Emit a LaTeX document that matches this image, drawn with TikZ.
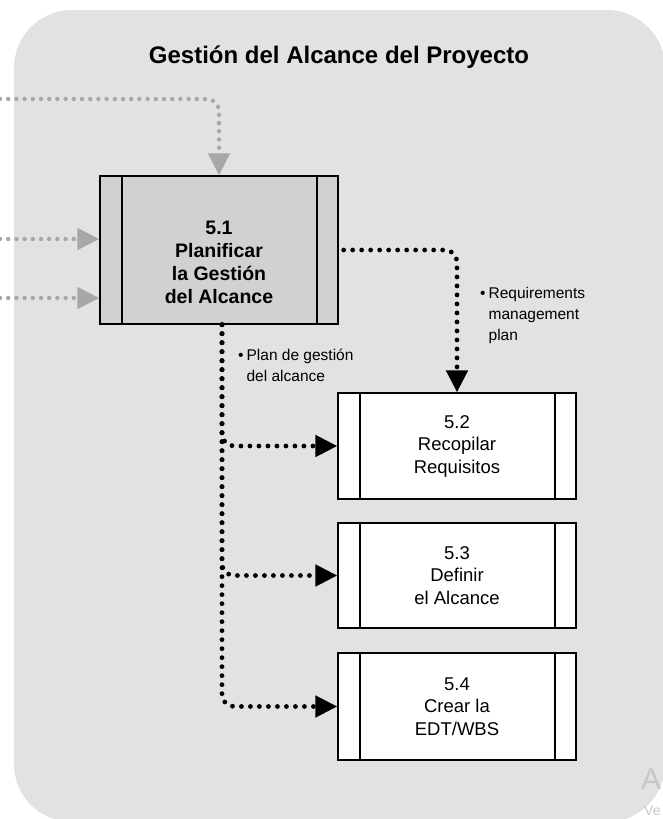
\documentclass[tikz,border=0pt]{standalone}
\usepackage{fontspec}
\setmainfont{Liberation Sans}
\usetikzlibrary{arrows.meta,calc}
\definecolor{panel}{HTML}{E1E2E4}
\definecolor{boxgray}{HTML}{D0D1D3}
\definecolor{flowgray}{HTML}{A6A7A9}
\definecolor{faintmark}{HTML}{C6C7C9}
\tikzset{
  process/.style={draw=black, line width=1.3pt, rectangle, minimum width=238pt,
    inner sep=0pt, align=center, font=\fontsize{18.5}{22.5}\selectfont,
    path picture={
      \draw[line width=1.3pt]
        ([xshift=22pt]path picture bounding box.north west) --
        ([xshift=22pt]path picture bounding box.south west)
        ([xshift=-21pt]path picture bounding box.north east) --
        ([xshift=-21pt]path picture bounding box.south east);
    }},
  flow/.style={line width=4.8pt, line cap=round, dash pattern=on 0pt off 9pt,
    rounded corners=12pt, -{Triangle[length=22pt,width=21pt]}},
  feed/.style={flowgray, line width=4.4pt, line cap=round, dash pattern=on 0pt off 8.2pt,
    rounded corners=12pt, -{Triangle[length=22pt,width=21pt]}},
  lbl/.style={align=left, font=\fontsize{15.5}{21}\selectfont, inner sep=0pt}
}
\begin{document}
\begin{tikzpicture}[x=1pt,y=-1pt]
\useasboundingbox (0,0) rectangle (663,819);
% panel
\fill[panel, rounded corners=58pt] (14,10) rectangle (665,822);

\node[font=\fontsize{24}{28}\selectfont\bfseries] (title) at (339,57) {Gestión del Alcance del Proyecto};

% process boxes
\node[process, fill=boxgray, minimum height=148pt] (p51) at (219,250) {};
\node[align=center, font=\fontsize{19.5}{23}\selectfont\bfseries] (t51) at (219,262)
  {5.1\\Planificar\\la Gestión\\del Alcance};
\node[process, fill=white, minimum height=106pt] (p52) at (457,446)
  {5.2\\Recopilar\\Requisitos};
\node[process, fill=white, minimum height=105pt] (p53) at (457,575.5)
  {5.3\\Definir\\el Alcance};
\node[process, fill=white, minimum height=107pt] (p54) at (457,706.5)
  {5.4\\Crear la\\EDT/WBS};

% incoming flows
\coordinate (in1) at (0,99);
\coordinate (in2) at (0,239);
\coordinate (in3) at (0,298);
\draw[feed] (in1) -| (p51.north);
\draw[feed] (in2) -- (in2 -| p51.west);
\draw[feed] (in3) -- (in3 -| p51.west);

% outgoing flows
\coordinate (down) at ([xshift=3pt]p51.south);
\draw[flow] ([xshift=5pt]p51.east) -| (p52.north);
\draw[flow] (down) |- (p52.west);
\draw[flow] (down) |- (p53.west);
\draw[flow] (down) |- (p54.west);

% flow labels
\node[lbl, anchor=north west] (l1) at (480,284)
  {\begin{tabular}{@{}l@{\hspace{3pt}}l@{}}\textbullet & Requirements\\ & management\\ & plan\end{tabular}};
\node[lbl, anchor=north west] (l2) at (238,346)
  {\begin{tabular}{@{}l@{\hspace{3pt}}l@{}}\textbullet & Plan de gestión\\ & del alcance\end{tabular}};

% faint corner text
\node[faintmark, anchor=base west, inner sep=0pt, font=\fontsize{30}{30}\selectfont] (m1) at (641,789) {A};
\node[faintmark, anchor=base west, inner sep=0pt, font=\fontsize{14}{14}\selectfont] (m2) at (644,815) {Ve};
\end{tikzpicture}
\end{document}
